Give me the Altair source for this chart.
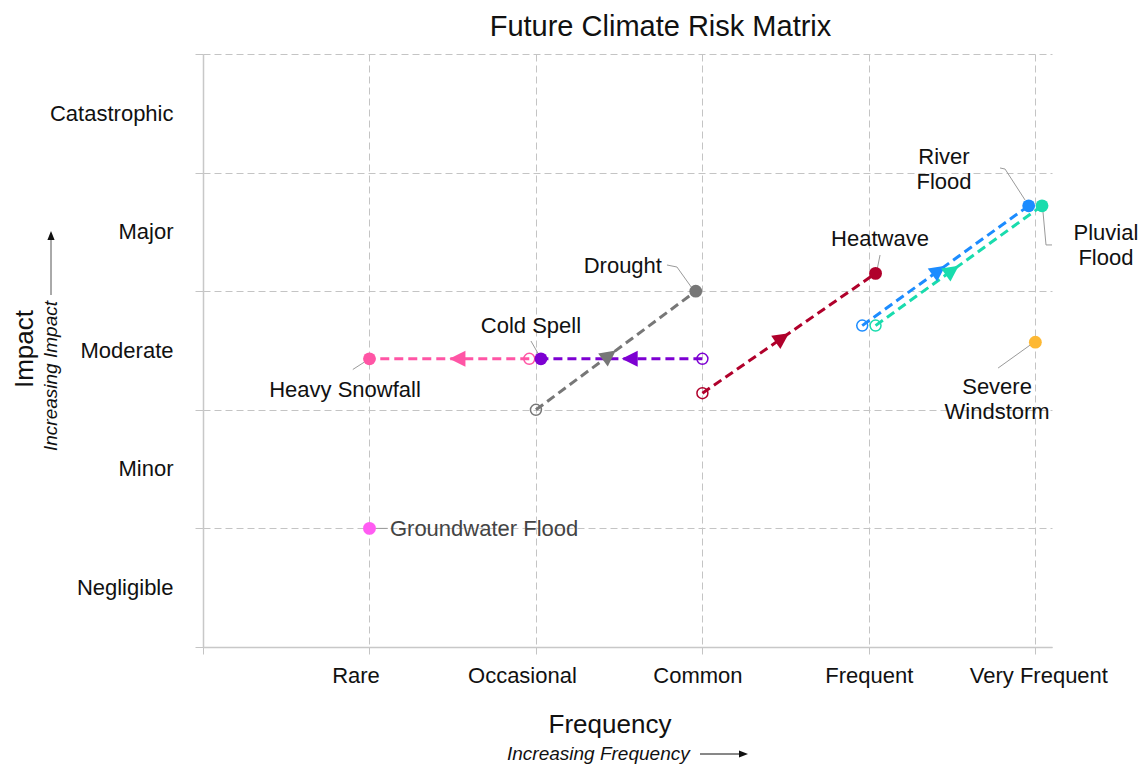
import json
import altair as alt
import numpy as np
import pandas as pd

# ---------------- data ----------------
risks = ["Heavy Snowfall", "Cold Spell", "Drought", "Heatwave",
         "River Flood", "Pluvial Flood", "Severe Windstorm", "Groundwater Flood"]
colors = ["#ff55a5", "#7d00d2", "#777777", "#b0002b",
          "#1c8cff", "#19dcad", "#fdb833", "#ff5cf2"]
freq_now = [1.96, 3.00, 2.00, 3.00, 3.96, 4.04, 5.00, 1.00]
impact_now = [2.43, 2.43, 2.00, 2.14, 2.71, 2.71, 2.57, 1.00]
freq_future = [1.00, 2.03, 2.96, 4.04, 4.96, 5.04, 5.00, 1.00]
impact_future = [2.43, 2.43, 3.00, 3.15, 3.72, 3.72, 2.57, 1.00]

freq_ticks = [0, 1, 2, 3, 4, 5]
freq_labels = ["", "Rare", "Occasional", "Common", "Frequent", "Very Frequent"]
freq_label_shift = [0, -14, -14, -5, 0, 3]
impact_ticks = [0, 1, 2, 3, 4, 5]
impact_labels = ["", "Negligible", "Minor", "Moderate", "Major", "Catastrophic"]

# annotation labels (data units)
label_text = ["Heavy Snowfall", "Cold Spell", "Drought", "Heatwave", "River", "Flood",
              "Pluvial", "Flood", "Severe", "Windstorm", "Groundwater Flood"]
label_x = [0.853, 1.970, 2.757, 4.067, 4.451, 4.451, 5.424, 5.424, 4.770, 4.770, 1.123]
label_y = [2.167, 2.707, 3.212, 3.440, 4.132, 3.921, 3.491, 3.280, 2.192, 1.981, 0.995]
label_align = ["center", "center", "right", "center", "center", "center",
               "center", "center", "center", "center", "left"]
label_color = ["#111111"] * 10 + ["#444444"]

# leader lines (data units)
leader_id = ["hs", "hs", "cs", "cs", "dr", "dr", "dr", "hw", "hw",
             "rf", "rf", "rf", "pf", "pf", "pf", "sw", "sw", "gw", "gw"]
leader_x = [1.00, 0.90, 1.970, 2.025, 2.787, 2.847, 2.937, 4.067, 4.049,
            4.788, 4.818, 4.938, 5.100, 5.064, 5.046, 4.776, 4.986, 1.00, 1.11]
leader_y = [2.43, 2.34, 2.58, 2.445, 3.221, 3.204, 3.027, 3.305, 3.179,
            4.039, 4.030, 3.769, 3.390, 3.390, 3.668, 2.352, 2.563, 1.00, 1.00]

# ---------------- layout ----------------
W, H = 849, 593
XDOM, YDOM = [0, 5.1], [0, 5]
sx = W / (XDOM[1] - XDOM[0])
sy = H / (YDOM[1] - YDOM[0])
FONT = "Liberation Sans"

df = pd.DataFrame(dict(risk=risks, color=colors, x0=freq_now, y0=impact_now,
                       x1=freq_future, y1=impact_future))
moved = df[(df.x0 != df.x1) | (df.y0 != df.y1)].copy()

lines = pd.concat([
    moved.assign(x=moved.x0, y=moved.y0, ord=0),
    moved.assign(x=moved.x1, y=moved.y1, ord=1),
])[["risk", "x", "y", "ord"]]

moved["xm"] = (moved.x0 + moved.x1) / 2
moved["ym"] = (moved.y0 + moved.y1) / 2
moved["ang"] = (np.degrees(np.arctan2((moved.x1 - moved.x0) * sx,
                                      (moved.y1 - moved.y0) * sy)) + 360) % 360

labels = pd.DataFrame(dict(text=label_text, x=label_x, y=label_y,
                           al=label_align, color=label_color))
leaders = pd.DataFrame(dict(id=leader_id, x=leader_x, y=leader_y,
                            ord=list(range(len(leader_id)))))

xexpr = json.dumps(freq_labels) + "[datum.value]"
yexpr = json.dumps(impact_labels) + "[datum.value]"
xoff = json.dumps(freq_label_shift) + "[datum.value]"

xscale = alt.Scale(domain=XDOM, nice=False, zero=False)
yscale = alt.Scale(domain=YDOM, nice=False, zero=False)
cscale = alt.Scale(domain=risks, range=colors)

X = alt.X("x:Q", scale=xscale,
          axis=alt.Axis(values=freq_ticks, labelExpr=xexpr, title=None,
                        tickSize=7, labelPadding=11, labelOverlap=False,
                        labelOffset={"expr": xoff}))
Y = alt.Y("y:Q", scale=yscale,
          axis=alt.Axis(values=impact_ticks, labelExpr=yexpr, title=None,
                        tickSize=8, labelPadding=22, labelOffset=59,
                        labelOverlap=False))

line_layer = alt.Chart(lines).mark_line(strokeDash=[9, 5], strokeWidth=3).encode(
    x=X, y=Y, color=alt.Color("risk:N", scale=cscale, legend=None),
    detail="risk:N", order="ord:Q")

arrow_shape = "M0,0L0.95,1.9L-0.95,1.9Z"
arrow_layer = alt.Chart(moved).mark_point(
    shape=arrow_shape, filled=True, size=285, opacity=1, strokeWidth=0).encode(
    x="xm:Q", y="ym:Q", color=alt.Color("risk:N", scale=cscale, legend=None),
    angle=alt.Angle("ang:Q", scale=None))

open_layer = alt.Chart(moved).mark_point(
    shape="circle", filled=False, size=120, strokeWidth=1.5, opacity=1).encode(
    x="x0:Q", y="y0:Q", color=alt.Color("risk:N", scale=cscale, legend=None))

leader_layer = alt.Chart(leaders).mark_line(color="#9a9a9a", strokeWidth=1).encode(
    x="x:Q", y="y:Q", detail="id:N", order="ord:Q")

filled_layer = alt.Chart(df).mark_circle(size=165, opacity=1).encode(
    x="x1:Q", y="y1:Q", color=alt.Color("risk:N", scale=cscale, legend=None))

text_layers = []
for a in ["center", "right", "left"]:
    sub = labels[labels["al"] == a]
    text_layers.append(
        alt.Chart(sub).mark_text(align=a, baseline="middle", fontSize=22, font=FONT).encode(
            x="x:Q", y="y:Q", text="text:N", color=alt.Color("color:N", scale=None)))

one = pd.DataFrame({"t": [""]})

def fixed_text(txt, px, py, size, angle=0, align="center", style="normal"):
    kw = dict(align=align, baseline="alphabetic", fontSize=size, font=FONT,
              color="#111111", fontStyle=style)
    if angle:
        kw["angle"] = angle
    return alt.Chart(pd.DataFrame({"t": [txt]})).mark_text(**kw).encode(
        text="t:N", x=alt.value(px), y=alt.value(py))

xtitle = fixed_text("Frequency", 407, 679, 26)
ytitle = fixed_text("Impact", -170, 295, 26, angle=270)
xsub = fixed_text("Increasing Frequency", 304, 706, 19, align="left", style="italic")
ysub = fixed_text("Increasing Impact", -146, 322, 19, angle=270, style="italic")

# direction arrows next to the italic hints
xarrow_line = alt.Chart(one).mark_rule(color="#111111", strokeWidth=1).encode(
    x=alt.value(497), x2=alt.value(538), y=alt.value(700))
xarrow_head = alt.Chart(one).mark_point(
    shape="M0,0L-2,-0.8L-2,0.8Z", filled=True, size=81, color="#111111",
    opacity=1, strokeWidth=0).encode(x=alt.value(545), y=alt.value(700))
yarrow_line = alt.Chart(one).mark_rule(color="#555555", strokeWidth=1).encode(
    x=alt.value(-152), y=alt.value(241), y2=alt.value(185))
yarrow_head = alt.Chart(one).mark_point(
    shape="M0,0L-0.8,2L0.8,2Z", filled=True, size=81, color="#111111",
    opacity=1, strokeWidth=0).encode(x=alt.value(-152), y=alt.value(177))

chart = alt.layer(
    line_layer, arrow_layer, open_layer, leader_layer, filled_layer,
    *text_layers, xtitle, ytitle, xsub, ysub,
    xarrow_line, xarrow_head, yarrow_line, yarrow_head
).properties(
    width=W, height=H,
    title=alt.TitleParams("Future Climate Risk Matrix", fontSize=29, font=FONT,
                          fontWeight="normal", color="#111111", dx=33, offset=12,
                          anchor="middle"),
    autosize=alt.AutoSizeParams(type="none"),
    padding={"left": 195, "top": 46, "right": 86, "bottom": 117},
).configure_view(stroke=None).configure_axis(
    gridColor="#c4c4c4", gridDash=[7, 4], gridWidth=1,
    domainColor="#c8c8c8", domainWidth=1.5, tickColor="#c4c4c4",
    labelFont=FONT, labelFontSize=22, labelColor="#111111",
)

chart.save("out.html", embed_options={"renderer": "svg", "actions": False})
